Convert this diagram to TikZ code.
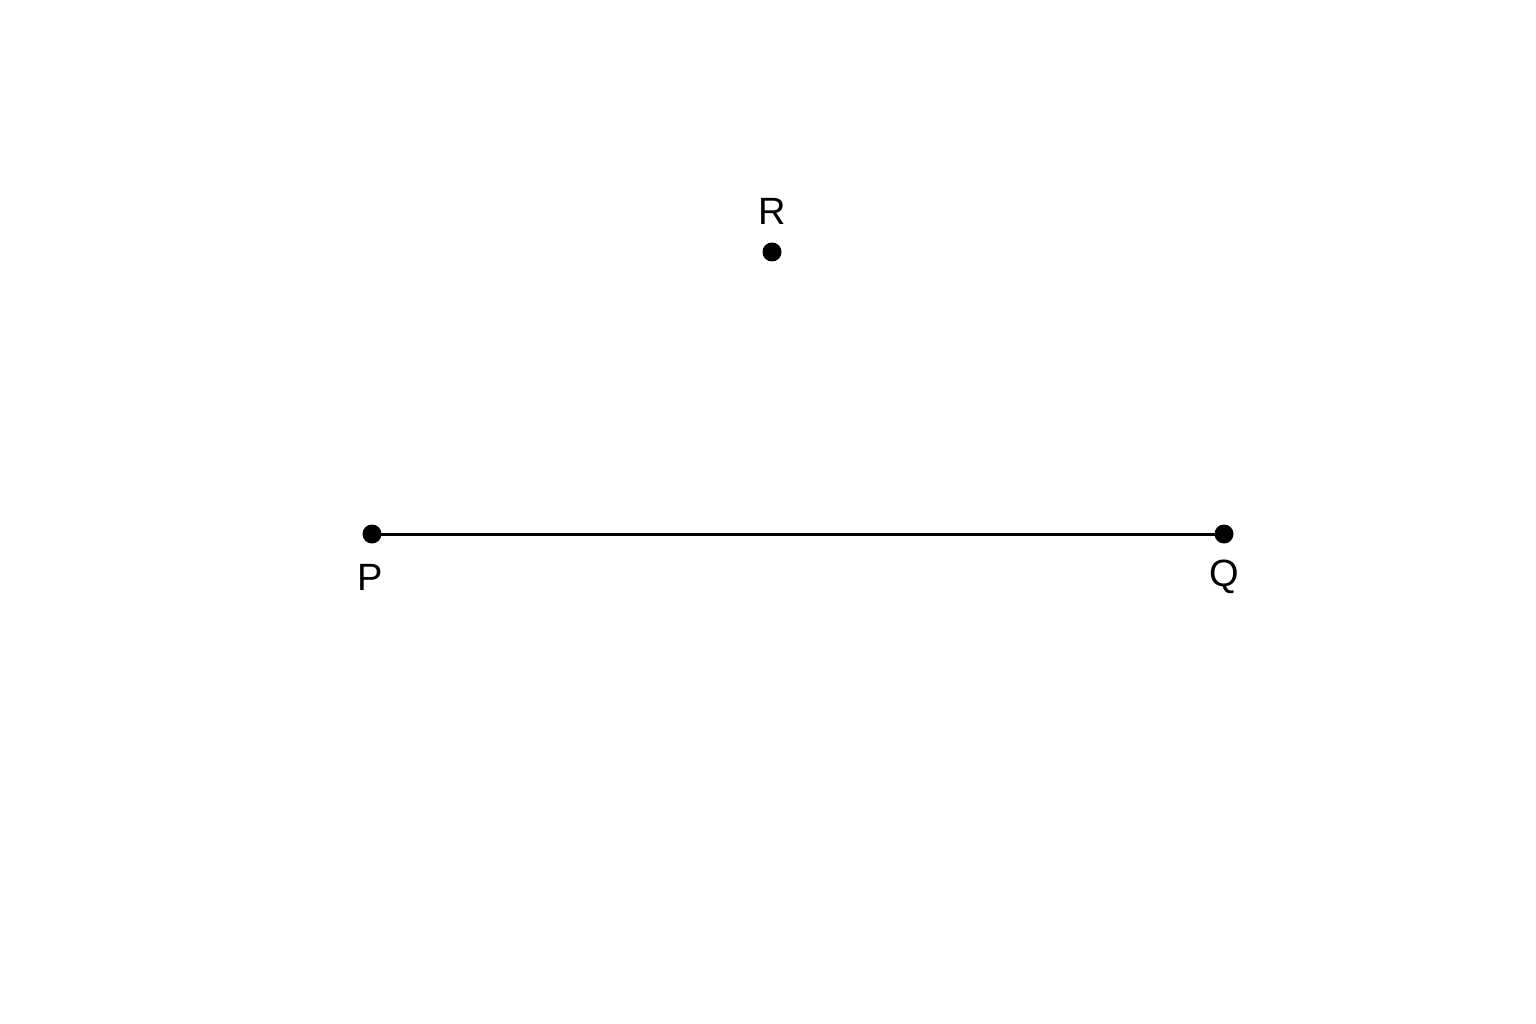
\documentclass[tikz,border=0pt]{standalone}
\usepackage{fontspec}
\setmainfont{Liberation Sans}
\begin{document}
\begin{tikzpicture}[x=1pt,y=-1pt,
  dot/.style={circle,fill=black,minimum size=19pt,inner sep=0pt},
  lbl/.style={font=\fontsize{38}{44}\selectfont,inner sep=0pt,anchor=center}]
\useasboundingbox[fill=white] (0,0) rectangle (1536,1024);
\node[dot] (P) at (372,534) {};
\node[dot] (Q) at (1224,534) {};
\node[dot] (R) at (772,252) {};
\draw[line width=3pt] (P.center) -- (Q.center);
\node[lbl] (lP) at (370,577) {P};
\node[lbl] (lQ) at (1224,577) {Q};
\node[lbl] (lR) at (772,211) {R};
\end{tikzpicture}
\end{document}
